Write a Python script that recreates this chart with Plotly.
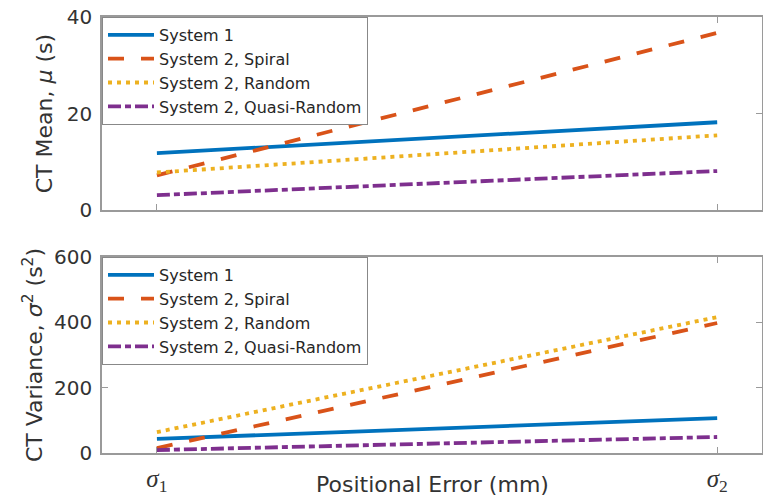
import plotly.graph_objects as go
from plotly.subplots import make_subplots

x_vals = [1, 2]
x_ticktext = ["<i>σ</i><sub>1</sub>", "<i>σ</i><sub>2</sub>"]
x_title = "Positional Error (mm)"
series_names = ["System 1", "System 2, Spiral", "System 2, Random", "System 2, Quasi-Random"]
mean_values = {
    "System 1": [11.8, 18.2],
    "System 2, Spiral": [7.2, 36.7],
    "System 2, Random": [7.8, 15.5],
    "System 2, Quasi-Random": [3.1, 8.1],
}
var_values = {
    "System 1": [43, 107],
    "System 2, Spiral": [15, 398],
    "System 2, Random": [64, 416],
    "System 2, Quasi-Random": [9, 49],
}
mean_ticks = [0, 20, 40]
var_ticks = [0, 200, 400, 600]
colors = ["#0072BD", "#D95319", "#EDB120", "#7E2F8E"]
dashes = ["solid", "16px,17px", "4px,5px", "13px,4px,6px,4px"]

fig = make_subplots(rows=2, cols=1, shared_xaxes=False)
for i, name in enumerate(series_names):
    fig.add_trace(go.Scatter(x=x_vals, y=mean_values[name], mode="lines", name=name,
                             line=dict(color=colors[i], width=3.8, dash=dashes[i]),
                             legend="legend"), row=1, col=1)
for i, name in enumerate(series_names):
    fig.add_trace(go.Scatter(x=x_vals, y=var_values[name], mode="lines", name=name,
                             line=dict(color=colors[i], width=3.8, dash=dashes[i]),
                             legend="legend2"), row=2, col=1)

axcol = "#9a9a9a"
txtcol = "#333333"
sans = "DejaVu Sans"
common_x = dict(range=[0.902, 2.08], tickvals=x_vals, showgrid=False, zeroline=False,
                showline=True, linecolor=axcol, linewidth=1.5, mirror="ticks",
                ticks="inside", ticklen=6, tickcolor=axcol, automargin=False)
fig.update_xaxes(**common_x, showticklabels=False, domain=[0, 1], row=1, col=1)
fig.update_xaxes(**common_x, ticktext=x_ticktext, showticklabels=True,
                 tickfont=dict(family="Liberation Serif", size=25, color=txtcol),
                 ticklabelstandoff=2,
                 domain=[0, 1], row=2, col=1)
common_y = dict(showgrid=False, zeroline=False, showline=True, linecolor=axcol, linewidth=1.5,
                mirror="ticks", ticks="inside", ticklen=6, tickcolor=axcol, automargin=False,
                ticklabelstandoff=4,
                tickfont=dict(family=sans, size=20, color=txtcol))
fig.update_yaxes(**common_y, range=[0, 40], tickvals=mean_ticks, domain=[0.557, 1],
                 title=dict(text="CT Mean, <i>μ</i> (s)", font=dict(family=sans, size=22, color=txtcol), standoff=8),
                 row=1, col=1)
fig.update_yaxes(**common_y, range=[0, 600], tickvals=var_ticks, domain=[0, 0.4495],
                 title=dict(text="CT Variance, <i>σ</i><sup>2</sup> (s<sup>2</sup>)", font=dict(family=sans, size=22, color=txtcol), standoff=5),
                 row=2, col=1)

fig.add_annotation(text=x_title, xref="paper", yref="paper", x=0.5, y=-0.073,
                   xanchor="center", yanchor="middle", showarrow=False,
                   font=dict(family=sans, size=22, color=txtcol))

leg = dict(x=0.0, xanchor="left", yanchor="top", bgcolor="white", bordercolor="#888888",
           borderwidth=1, font=dict(family=sans, size=16, color="#262626"),
           tracegroupgap=0, itemwidth=46)
fig.update_layout(
    width=763, height=504,
    margin=dict(l=102, r=1, t=17, b=51, autoexpand=False),
    paper_bgcolor="white", plot_bgcolor="white",
    legend=dict(**leg, y=1),
    legend2=dict(**leg, y=0.4495),
    showlegend=True,
)
fig.write_html("out.html", config={"displayModeBar": False},
               post_script="document.body.style.margin='0';document.body.style.padding='0';document.body.style.overflow='hidden';")
